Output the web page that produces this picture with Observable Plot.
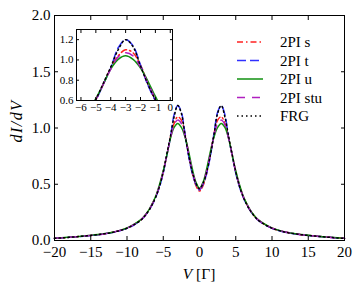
<!DOCTYPE html>
<html><head><meta charset="utf-8">
<script src="https://cdn.jsdelivr.net/npm/d3@7"></script>
<script src="https://cdn.jsdelivr.net/npm/@observablehq/plot@0.6"></script>
<style>
body{margin:0;background:#fff;}
#chart{position:relative;width:362px;height:290px;font-family:"Liberation Serif",serif;}
#chart svg{position:absolute;}
#chart svg text{font-family:"Liberation Serif",serif !important;}
</style></head><body><div id="chart"></div>
<script>
// Bias voltage V [Γ]
const V = [-20,-19,-18,-17,-16,-15,-14,-13,-12,-11,-10,-9,-8,
  -7.5,-7,-6.5,-6,-5.5,-5,-4.5,-4,-3.5,-3,-2.5,-2,-1.5,-1,-0.5,
  0,
  0.5,1,1.5,2,2.5,3,3.5,4,4.5,5,5.5,6,6.5,7,7.5,
  8,9,10,11,12,13,14,15,16,17,18,19,20];

const dIdV_s = [0.019,0.023,0.028,0.033,0.039,0.045,0.052,0.061,0.073,0.089,0.11,0.143,0.188,
  0.223,0.268,0.325,0.395,0.49,0.61,0.76,0.92,1.04,1.1,1.07,0.95,0.77,0.6,0.49,
  0.44,
  0.49,0.6,0.77,0.95,1.07,1.1,1.04,0.92,0.76,0.61,0.49,0.395,0.325,0.268,0.223,
  0.188,0.143,0.11,0.089,0.073,0.061,0.052,0.045,0.039,0.033,0.028,0.023,0.019];

const dIdV_t = [0.019,0.023,0.028,0.033,0.038,0.044,0.051,0.06,0.071,0.087,0.108,0.14,0.185,
  0.22,0.265,0.32,0.39,0.48,0.6,0.76,0.92,1.12,1.2,1.14,0.95,0.75,0.6,0.5,
  0.45,
  0.5,0.6,0.75,0.95,1.14,1.2,1.12,0.92,0.76,0.6,0.48,0.39,0.32,0.265,0.22,
  0.185,0.14,0.108,0.087,0.071,0.06,0.051,0.044,0.038,0.033,0.028,0.023,0.019];

const dIdV_u = [0.02,0.024,0.029,0.034,0.04,0.046,0.053,0.062,0.074,0.09,0.112,0.145,0.19,
  0.225,0.27,0.33,0.4,0.5,0.62,0.76,0.91,1.005,1.04,1.005,0.92,0.79,0.64,0.52,
  0.465,
  0.52,0.64,0.79,0.92,1.005,1.04,1.005,0.91,0.76,0.62,0.5,0.4,0.33,0.27,0.225,
  0.19,0.145,0.112,0.09,0.074,0.062,0.053,0.046,0.04,0.034,0.029,0.024,0.02];

const dIdV_stu = [0.019,0.023,0.028,0.033,0.039,0.045,0.052,0.061,0.073,0.089,0.11,0.143,0.188,
  0.223,0.268,0.325,0.395,0.49,0.61,0.76,0.91,1.03,1.07,1.04,0.93,0.77,0.62,0.51,
  0.455,
  0.51,0.62,0.77,0.93,1.04,1.07,1.03,0.91,0.76,0.61,0.49,0.395,0.325,0.268,0.223,
  0.188,0.143,0.11,0.089,0.073,0.061,0.052,0.045,0.039,0.033,0.028,0.023,0.019];

const dIdV_FRG = [0.019,0.023,0.028,0.033,0.039,0.045,0.052,0.061,0.072,0.088,0.109,0.142,0.186,
  0.222,0.266,0.322,0.392,0.485,0.61,0.77,0.93,1.1,1.2,1.13,0.94,0.76,0.61,0.51,
  0.46,
  0.51,0.61,0.76,0.94,1.13,1.2,1.1,0.93,0.77,0.61,0.485,0.392,0.322,0.266,0.222,
  0.186,0.142,0.109,0.088,0.072,0.061,0.052,0.045,0.039,0.033,0.028,0.023,0.019];

const seriesNames = ["2PI s","2PI t","2PI u","2PI stu","FRG"];
const seriesValues = [dIdV_s, dIdV_t, dIdV_u, dIdV_stu, dIdV_FRG];
const seriesColors = ["#ff2020","#3030ff","#109010","#b020c0","#000000"];
const seriesDash = ["6,3,1.5,3","9,4",null,"8,7","1.5,3"];

const xTicks = [-20,-15,-10,-5,0,5,10,15,20];
const yTicks = [0,0.5,1,1.5,2];
const insetXTicks = [-6,-5,-4,-3,-2,-1,0];
const insetYTicks = [0.6,0.8,1.0,1.2];

const rows = seriesNames.map((name,i)=>V.map((v,j)=>({series:name, V:v, y:seriesValues[i][j]})));

function lineMarks(clip){
  return rows.map((data,i)=>Plot.line(data,{x:"V",y:"y",stroke:seriesColors[i],strokeWidth:1.5,
    strokeDasharray:seriesDash[i]||undefined,curve:"catmull-rom",clip}));
}
const blank = ()=>"";
const chart = document.getElementById("chart");
const serif = '"Liberation Serif", serif';

const main = Plot.plot({
  width:362,height:290,marginLeft:54,marginRight:18,marginTop:15,marginBottom:50,
  x:{domain:[-20,20]}, y:{domain:[0,2]},
  style:{fontFamily:serif,fontSize:"15px",background:"transparent",color:"black",overflow:"visible"},
  marks:[
    ...lineMarks(false),
    Plot.axisX({ticks:xTicks,tickSize:0,tickPadding:6,tickFormat:d3.format("d"),label:null,fontFamily:serif}),
    Plot.axisX({ticks:xTicks,tickSize:-4,tickFormat:blank,label:null}),
    Plot.axisX({anchor:"top",ticks:xTicks,tickSize:-4,tickFormat:blank,label:null}),
    Plot.axisY({ticks:yTicks,tickSize:0,tickPadding:4,tickFormat:d3.format(".1f"),label:null,fontFamily:serif}),
    Plot.axisY({ticks:yTicks,tickSize:-4,tickFormat:blank,label:null}),
    Plot.axisY({anchor:"right",ticks:yTicks,tickSize:-4,tickFormat:blank,label:null}),
    Plot.frame({stroke:"black"})
  ]
});
main.style.left="0px"; main.style.top="0px";
chart.appendChild(main);

const inset = Plot.plot({
  width:128,height:91,marginLeft:26,marginRight:6,marginTop:3,marginBottom:17,
  x:{domain:[-6.3,0.15]}, y:{domain:[0.6,1.3]},
  style:{fontFamily:serif,fontSize:"11px",background:"transparent",color:"black",overflow:"visible"},
  marks:[
    Plot.frame({fill:"white",stroke:null}),
    ...lineMarks(true),
    Plot.axisX({ticks:insetXTicks,tickSize:0,tickPadding:3,tickFormat:d3.format("d"),label:null,fontFamily:serif}),
    Plot.axisX({ticks:insetXTicks,tickSize:-3,tickFormat:blank,label:null}),
    Plot.axisX({anchor:"top",ticks:insetXTicks,tickSize:-3,tickFormat:blank,label:null}),
    Plot.axisY({ticks:insetYTicks,tickSize:0,tickPadding:3,tickFormat:d3.format(".1f"),label:null,fontFamily:serif}),
    Plot.axisY({ticks:insetYTicks,tickSize:-3,tickFormat:blank,label:null}),
    Plot.axisY({anchor:"right",ticks:insetYTicks,tickSize:-3,tickFormat:blank,label:null}),
    Plot.frame({stroke:"black"})
  ]
});
inset.style.left="50px"; inset.style.top="26px";
chart.appendChild(inset);

// legend and axis labels overlay
const ov = d3.select(chart).append("svg").attr("width",362).attr("height",290)
  .style("left","0px").style("top","0px").style("overflow","visible")
  .attr("font-family",serif);
seriesNames.forEach((name,i)=>{
  const y = 42 + i*18.5;
  ov.append("line").attr("x1",237).attr("x2",263).attr("y1",y).attr("y2",y)
    .attr("stroke",seriesColors[i]).attr("stroke-width",1.5)
    .attr("stroke-dasharray",seriesDash[i]);
  ov.append("text").attr("x",280).attr("y",y).attr("dy","0.35em")
    .attr("font-size",15).text(name);
});
ov.append("text").attr("transform","translate(22,121) rotate(-90)")
  .attr("text-anchor","middle").attr("font-size",16).attr("font-style","italic")
  .attr("letter-spacing","1.5px").text("dI/dV");
const xl = ov.append("text").attr("x",199).attr("y",279).attr("text-anchor","middle").attr("font-size",15.5);
xl.append("tspan").attr("font-style","italic").text("V");
xl.append("tspan").text(" [Γ]");
</script></body></html>
